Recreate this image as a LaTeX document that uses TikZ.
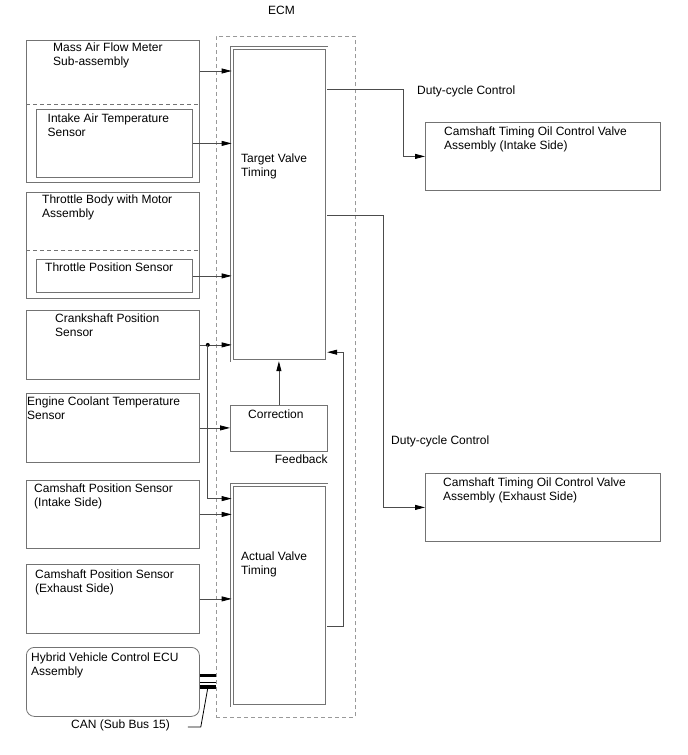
\documentclass[tikz,border=0pt]{standalone}
\usepackage{fontspec}
\setmainfont{Liberation Sans}
\usepackage{tikz}
\usetikzlibrary{arrows.meta,positioning}
\definecolor{boxgray}{gray}{0.45}
\definecolor{wiregray}{gray}{0.3}
\tikzset{
 unit/.style={draw=boxgray, line width=0.8pt, inner sep=0pt, anchor=north west},
 ecu/.style={unit, double, double distance=1.6pt},
 txt/.style={font=\fontsize{12}{14}\selectfont, align=left, inner sep=0pt, anchor=north west},
 sig/.style={draw=wiregray, line width=0.8pt, -{Triangle[length=10pt,width=5pt,color=black]}},
 split/.style={dash pattern=on 4pt off 3pt, draw=boxgray, line width=0.8pt},
}
\begin{document}
\begin{tikzpicture}[x=1pt,y=-1pt]
\useasboundingbox (0,0) rectangle (688,755);
% nodes
\node[unit, split, draw=gray!80, minimum width=139pt, minimum height=681pt] (ecm) at (216,36) {};%
\node[txt] (ecmlbl) at (268,5.5) {ECM};%
\node[unit, minimum width=173pt, minimum height=142pt] (maf) at (26,40) {};%
\node[unit, minimum width=156pt, minimum height=68pt] (iat) at (36,109) {};%
\node[unit, minimum width=173pt, minimum height=106pt] (tbm) at (26,192) {};%
\node[unit, minimum width=156pt, minimum height=33pt] (tps) at (36,259) {};%
\node[unit, minimum width=173pt, minimum height=69pt] (ckp) at (26,310) {};%
\node[unit, minimum width=173pt, minimum height=69pt] (ect) at (26,393) {};%
\node[unit, minimum width=173pt, minimum height=68pt] (cmpi) at (26,480) {};%
\node[unit, minimum width=173pt, minimum height=69pt] (cmpe) at (26,564) {};%
\node[unit, rounded corners=8pt, minimum width=173pt, minimum height=69pt] (hv) at (26,647) {};%
\node[ecu, minimum width=94.8pt, minimum height=312.8pt] (tvt) at (231.6,47.6) {};%
\node[unit, minimum width=97pt, minimum height=46pt] (corr) at (230,405) {};%
\node[ecu, minimum width=94.8pt, minimum height=220.8pt] (avt) at (231.6,484.6) {};%
\node[unit, minimum width=235pt, minimum height=68pt] (ocvi) at (425,122) {};%
\node[unit, minimum width=235pt, minimum height=68pt] (ocve) at (425,473) {};%

% texts
\node[txt, below right=3pt and 27pt of maf.north west] {Mass Air Flow Meter\\Sub-assembly};
\node[txt, below right=5pt and 11.5pt of iat.north west] {Intake Air Temperature\\Sensor};
\node[txt, below right=3pt and 16pt of tbm.north west] {Throttle Body with Motor\\Assembly};
\node[txt, below right=4pt and 9pt of tps.north west] {Throttle Position Sensor};
\node[txt, below right=4pt and 29pt of ckp.north west] {Crankshaft Position\\Sensor};
\node[txt, below right=4pt and 1pt of ect.north west] {Engine Coolant Temperature\\Sensor};
\node[txt, below right=4pt and 8pt of cmpi.north west] {Camshaft Position Sensor\\(Intake Side)};
\node[txt, below right=5.7pt and 9pt of cmpe.north west] {Camshaft Position Sensor\\(Exhaust Side)};
\node[txt, below right=6pt and 5pt of hv.north west] {Hybrid Vehicle Control ECU\\Assembly};
\node[txt, below right=106.4pt and 9.4pt of tvt.north west] {Target Valve\\Timing};
\node[txt, below right=5pt and 18pt of corr.north west] {Correction};
\node[txt, below right=67.4pt and 9.4pt of avt.north west] {Actual Valve\\Timing};
\node[txt, below left=3pt and 0pt of corr.south east] (fb) {Feedback};
\node[txt, below right=5pt and 19pt of ocvi.north west] {Camshaft Timing Oil Control Valve\\Assembly (Intake Side)};
\node[txt, below right=5pt and 18pt of ocve.north west] {Camshaft Timing Oil Control Valve\\Assembly (Exhaust Side)};
\node[txt] (dutyi) at (417,86) {Duty-cycle Control};
\node[txt] (dutye) at (391,436) {Duty-cycle Control};
\node[txt] (can) at (71,720) {CAN (Sub Bus 15)};

% dividers
\draw[split] (maf.west |- 0,104) -- (maf.east |- 0,104);
\draw[split] (tbm.west |- 0,250) -- (tbm.east |- 0,250);

% edges
\draw[sig] ([yshift=-31pt]maf.north east) -- ([yshift=-31pt]maf.north east -| tvt.west);
\draw[sig] (iat.east) -- (iat.east -| tvt.west);
\draw[sig] (tps.east) -- (tps.east -| tvt.west);
\draw[sig] (ckp.east) -- (ckp.east -| tvt.west);
\coordinate (tap) at ([xshift=8pt]ckp.east);
\fill[black] (tap) circle (2pt);
\draw[sig] (tap) |- ([yshift=-14pt]avt.north west);
\draw[sig] (ect.east) -- (ect.east -| corr.west);
\draw[sig] (cmpi.east) -- (cmpi.east -| avt.west);
\draw[sig] (cmpe.east) -- (cmpe.east -| avt.west);
\draw[sig] (corr.north) -- (corr.north |- tvt.south);
\draw[sig] ([yshift=-142pt]avt.north east) -- ++(16,0) |- ([yshift=9pt]tvt.south east);
\draw[sig] ([yshift=-42pt]tvt.north east) -| ([xshift=-22pt]ocvi.west) -- (ocvi.west);
\draw[sig] ([yshift=-168pt]tvt.north east) -| ([xshift=-42pt]ocve.west) -- (ocve.west);

% CAN bus
\draw[line width=3pt] ([yshift=6pt]hv.east) -- ([yshift=6pt]hv.east -| ecm.west);
\draw[line width=0.8pt] (hv.east) -- (hv.east -| ecm.west);
\draw[line width=3.5pt] ([yshift=-5pt]hv.east) -- ([yshift=-5pt]hv.east -| ecm.west);
\coordinate (canpt) at ([xshift=8pt,yshift=-6pt]hv.east);
\draw[line width=0.8pt] (canpt) -- ++(-7,39) -- ++(-13,0);
\end{tikzpicture}
\end{document}
